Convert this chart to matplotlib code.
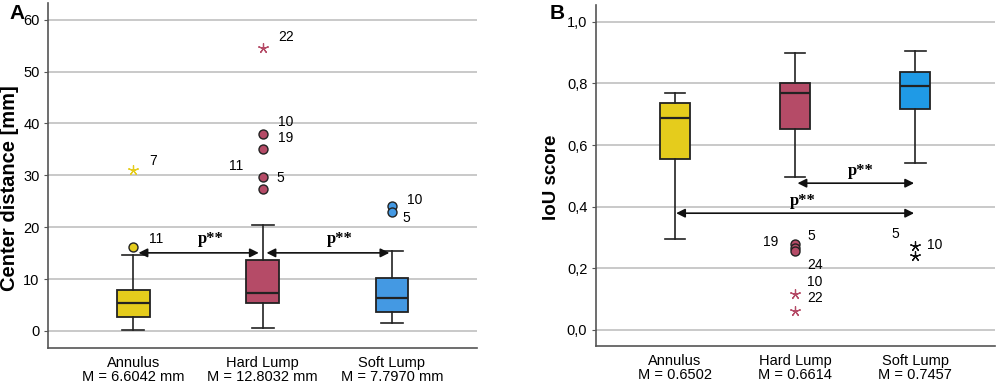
import numpy as np
import matplotlib
matplotlib.use("Agg")
import matplotlib.pyplot as plt

plt.rcParams['font.family'] = ['Liberation Sans', 'DejaVu Sans']

# categories and labels
groups = ["Annulus", "Hard Lump", "Soft Lump"]
means_a = ["6.6042 mm", "12.8032 mm", "7.7970 mm"]
means_b = ["0.6502", "0.6614", "0.7457"]
colors_a = ["#E5CC1C", "#B54B67", "#4499E3"]
colors_b = ["#E5CC1C", "#B54B67", "#1F9AE6"]

# panel A box stats: whislo, q1, med, q3, whishi
box_a = [[0.2, 2.75, 5.3, 7.9, 14.7],
         [0.5, 5.3, 7.4, 13.6, 20.4],
         [1.6, 3.6, 6.4, 10.25, 15.4]]
# outliers A
circ_a_grp = [0, 1, 1, 1, 1, 2, 2]
circ_a_val = [16.2, 38.0, 35.0, 29.6, 27.4, 24.0, 23.0]
star_a_grp = [0, 1]
star_a_val = [31.0, 54.6]
lab_a_txt = ["11", "7", "22", "10", "19", "11", "5", "10", "5"]
lab_a_grp = [0, 0, 1, 1, 1, 1, 1, 2, 2]
lab_a_val = [17.8, 32.8, 56.7, 40.3, 37.2, 31.8, 29.4, 25.3, 21.7]
lab_a_dx = [0.12, 0.12, 0.12, 0.12, 0.12, -0.26, 0.11, 0.12, 0.08]

# panel B box stats
box_b = [[0.296, 0.554, 0.6875, 0.738, 0.7675],
         [0.4975, 0.653, 0.7675, 0.803, 0.899],
         [0.541, 0.717, 0.7925, 0.838, 0.907]]
circ_b_grp = [1, 1, 1]
circ_b_val = [0.277, 0.266, 0.256]
star_b_grp = [1, 1, 2, 2]
star_b_val = [0.116, 0.062, 0.273, 0.240]
lab_b_txt = ["19", "5", "24", "10", "22", "5", "10"]
lab_b_grp = [1, 1, 1, 1, 1, 2, 2]
lab_b_val = [0.285, 0.305, 0.21, 0.155, 0.103, 0.31, 0.275]
lab_b_dx = [-0.27, 0.1, 0.1, 0.1, 0.1, -0.2, 0.1]

pos = np.arange(1, 4)


def draw_panel(ax, boxes, colors, means, ylim, ticks, ticklabels):
    stats = []
    for b in boxes:
        stats.append(dict(whislo=b[0], q1=b[1], med=b[2], q3=b[3], whishi=b[4]))
    bp = ax.bxp(stats, positions=pos, widths=0.25, patch_artist=True,
                showfliers=False,
                boxprops=dict(linewidth=1.3, edgecolor="#222222"),
                medianprops=dict(color="#222222", linewidth=1.6),
                whiskerprops=dict(color="#222222", linewidth=1.2),
                capprops=dict(color="#222222", linewidth=1.2),
                capwidths=0.17)
    for patch, c in zip(bp["boxes"], colors):
        patch.set_facecolor(c)
    ax.set_xlim(0.34, 3.66)
    ax.set_ylim(*ylim)
    ax.set_yticks(ticks)
    ax.set_yticklabels(ticklabels, fontsize=10.5)
    ax.set_xticks(pos)
    ax.set_xticklabels([g + "\nM = " + m for g, m in zip(groups, means)],
                       fontsize=10.5, linespacing=1.0)
    ax.tick_params(axis="x", length=0, pad=6)
    ax.tick_params(axis="y", length=3, color="#555555", pad=3)
    ax.yaxis.grid(True, color="#BBBBBB", linewidth=1.1)
    ax.set_axisbelow(True)
    for s in ["top", "right"]:
        ax.spines[s].set_visible(False)
    for s in ["left", "bottom"]:
        ax.spines[s].set_color("#555555")
        ax.spines[s].set_linewidth(1.2)


def arrow(ax, x0, x1, y):
    ax.annotate("", xy=(x1, y), xytext=(x0, y),
                arrowprops=dict(arrowstyle="<|-|>", color="#111111", lw=1.2,
                                mutation_scale=13, shrinkA=0, shrinkB=0))


fig = plt.figure(figsize=(9.96, 3.84), dpi=100)

# panel A
ax1 = fig.add_axes([0.0482, 0.0937, 0.431, 0.898])
draw_panel(ax1, box_a, colors_a, means_a, (-3.3, 63.2),
           [0, 10, 20, 30, 40, 50, 60], ["0", "10", "20", "30", "40", "50", "60"])
for g, v in zip(circ_a_grp, circ_a_val):
    ax1.scatter(pos[g], v, s=42, color=colors_a[g], edgecolor="#222222",
                linewidth=1.0, zorder=4)
for g, v in zip(star_a_grp, star_a_val):
    ax1.scatter(pos[g], v, s=50, marker=(5, 2, 0), color=colors_a[g],
                linewidth=0.9, zorder=4)
for t, g, v, dx in zip(lab_a_txt, lab_a_grp, lab_a_val, lab_a_dx):
    ax1.text(pos[g] + dx, v, t, fontsize=10, va="center", ha="left")
arrow(ax1, 1.04, 1.97, 15.05)
arrow(ax1, 2.03, 2.98, 15.05)
ax1.text(1.6, 16.2, "p**", family="Liberation Serif", weight="bold",
         fontsize=12, ha="center", va="bottom")
ax1.text(2.6, 16.2, "p**", family="Liberation Serif", weight="bold",
         fontsize=12, ha="center", va="bottom")
ax1.set_ylabel("Center distance [mm]", fontsize=14.5, weight="bold")
ax1.yaxis.set_label_coords(-0.068, 0.464)
fig.text(0.010, 0.965, "A", fontsize=15, weight="bold", va="center")

# panel B
ax2 = fig.add_axes([0.598, 0.099, 0.4006, 0.888])
draw_panel(ax2, box_b, colors_b, means_b, (-0.053, 1.055),
           [0.0, 0.2, 0.4, 0.6, 0.8, 1.0], ["0,0", "0,2", "0,4", "0,6", "0,8", "1,0"])
for g, v in zip(circ_b_grp, circ_b_val):
    ax2.scatter(pos[g], v, s=42, color=colors_b[g], edgecolor="#222222",
                linewidth=1.0, zorder=4)
for g, v in zip(star_b_grp, star_b_val):
    c = colors_b[g] if g == 1 else "#111111"
    ax2.scatter(pos[g], v, s=50, marker=(5, 2, 0), color=c,
                linewidth=0.9, zorder=4)
for t, g, v, dx in zip(lab_b_txt, lab_b_grp, lab_b_val, lab_b_dx):
    ax2.text(pos[g] + dx, v, t, fontsize=10, va="center", ha="left")
arrow(ax2, 2.02, 2.99, 0.476)
arrow(ax2, 1.01, 2.99, 0.3785)
ax2.text(2.55, 0.49, "p**", family="Liberation Serif", weight="bold",
         fontsize=12, ha="center", va="bottom")
ax2.text(2.06, 0.392, "p**", family="Liberation Serif", weight="bold",
         fontsize=12, ha="center", va="bottom")
ax2.set_ylabel("IoU score", fontsize=13.5, weight="bold")
ax2.yaxis.set_label_coords(-0.088, 0.496)
fig.text(0.552, 0.965, "B", fontsize=15, weight="bold", va="center")

fig.savefig("out.png", dpi=100)
